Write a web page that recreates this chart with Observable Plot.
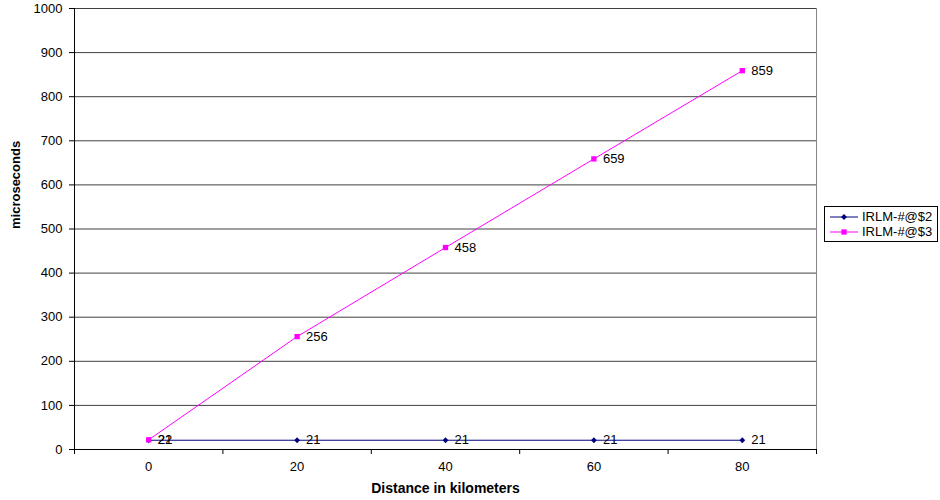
<!DOCTYPE html>
<html>
<head>
<meta charset="utf-8">
<script src="https://cdn.jsdelivr.net/npm/d3@7"></script>
<script src="https://cdn.jsdelivr.net/npm/@observablehq/plot@0.6"></script>
<style>
  html, body { margin: 0; padding: 0; background: #fff; }
  #chart { position: relative; width: 940px; height: 500px; font-family: "Liberation Sans", Arial, sans-serif; }
  #legend {
    position: absolute; left: 824px; top: 206px; width: 114px; height: 36px;
    border: 1px solid #000; background: #fff; font-size: 13px; line-height: 15px; color: #000;
    padding-top: 2px; box-sizing: border-box;
  }
  #legend .row { display: flex; align-items: center; height: 15px; }
  #legend svg { margin-left: 5px; margin-right: 4px; }
</style>
</head>
<body>
<div id="chart"></div>
<script>
// Distance categories (km) and delay per series (microseconds)
const categories = [0, 20, 40, 60, 80];
const seriesNames = ["IRLM-#@$2", "IRLM-#@$3"];
const series2 = [21, 21, 21, 21, 21];
const series3 = [22, 256, 458, 659, 859];
const seriesColors = ["#000080", "#ff00ff"];
const seriesSymbols = ["diamond2", "square"];

// Axis ticks: value ticks on y, category boundaries on x
const yTicks = [0, 100, 200, 300, 400, 500, 600, 700, 800, 900, 1000];
const xBoundaries = [-10, 10, 30, 50, 70, 90];

const rows = [series2, series3].flatMap((vals, s) =>
  categories.map((c, i) => ({series: seriesNames[s], km: c, us: vals[i]}))
);
const bySeries = name => rows.filter(d => d.series === name);

const marks = [
  Plot.gridY({ticks: yTicks, stroke: "#000", strokeOpacity: 0.75}),
  Plot.ruleX([90], {stroke: "#888"}),
  Plot.axisY({ticks: yTicks, tickSize: 5, tickPadding: 7, tickFormat: d => String(d), label: null, fontSize: 13}),
  Plot.axisX({ticks: xBoundaries, tickSize: 5, tickFormat: () => "", label: null}),
  Plot.axisX({ticks: categories, tickSize: 0, tickPadding: 12, tickFormat: d => String(d), label: null, fontSize: 13}),
  Plot.ruleY([0], {stroke: "#000"}),
  Plot.ruleX([-10], {stroke: "#000"})
];

seriesNames.forEach((name, s) => {
  const data = bySeries(name);
  marks.push(
    Plot.line(data, {x: "km", y: "us", stroke: seriesColors[s], strokeWidth: 1}),
    Plot.dot(data, {x: "km", y: "us", symbol: seriesSymbols[s], fill: seriesColors[s], stroke: "none", r: s === 0 ? 2.6 : 3})
  );
});
seriesNames.forEach(name => {
  marks.push(Plot.text(bySeries(name), {
    x: "km", y: "us", text: d => String(d.us), textAnchor: "start", dx: 9,
    fill: "#000", fontSize: 13
  }));
});

// Axis titles
marks.push(
  Plot.text(["Distance in kilometers"], {frameAnchor: "bottom", lineAnchor: "middle", dy: 39, fontWeight: "bold", fontSize: 14, fill: "#000"}),
  Plot.text(["microseconds"], {frameAnchor: "left", dx: -59, rotate: -90, fontWeight: "bold", fontSize: 13, fill: "#000"})
);

const plot = Plot.plot({
  width: 940,
  height: 500,
  marginLeft: 74,
  marginRight: 124,
  marginTop: 8,
  marginBottom: 51,
  x: {domain: [-10, 90]},
  y: {domain: [0, 1000]},
  style: {fontFamily: "'Liberation Sans', Arial, sans-serif", fontSize: "13px", color: "#000", background: "#fff"},
  marks
});
const chart = document.getElementById("chart");
chart.appendChild(plot);

// Series legend
const legendSymbols = [d3.symbolDiamond2, d3.symbolSquare];
const legend = document.createElement("div");
legend.id = "legend";
seriesNames.forEach((name, s) => {
  const row = document.createElement("div");
  row.className = "row";
  const sw = d3.create("svg").attr("width", 28).attr("height", 10);
  sw.append("line").attr("x1", 0).attr("x2", 28).attr("y1", 5).attr("y2", 5)
    .attr("stroke", seriesColors[s]).attr("stroke-width", 1);
  sw.append("path")
    .attr("d", d3.symbol(legendSymbols[s], s === 0 ? 22 : 28)())
    .attr("transform", "translate(14,5)")
    .attr("fill", seriesColors[s]);
  row.appendChild(sw.node());
  const label = document.createElement("span");
  label.textContent = name;
  row.appendChild(label);
  legend.appendChild(row);
});
chart.appendChild(legend);
</script>
</body>
</html>
